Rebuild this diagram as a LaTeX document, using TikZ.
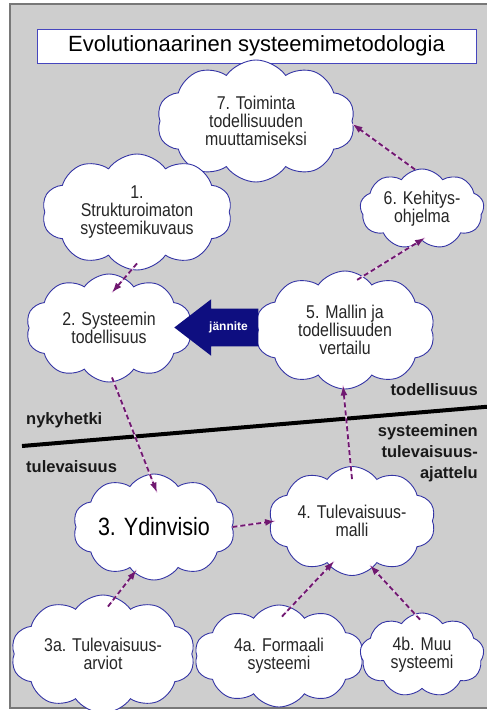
\documentclass[tikz,border=0pt]{standalone}
\usepackage{fontspec}
\setmainfont{Liberation Sans}
\newfontfamily\pilvifont[FakeStretch=0.86]{Liberation Sans}
\usetikzlibrary{shapes.symbols,shapes.arrows,arrows.meta}

\definecolor{tausta}{RGB}{206,206,206}
\definecolor{kehys}{RGB}{120,120,120}
\definecolor{pilvireuna}{RGB}{52,52,165}
\definecolor{otsikkoreuna}{RGB}{70,70,190}
\definecolor{violetti}{RGB}{112,24,112}
\definecolor{vaalea}{RGB}{240,215,240}
\definecolor{jannitevari}{RGB}{14,14,128}

\begin{document}
\begin{tikzpicture}
      [x=1pt, y=-1pt,
      every node/.style={inner sep=0pt},
      pilvi/.style={cloud, cloud puffs=10, cloud puff arc=110, cloud ignores aspect,
        draw=pilvireuna, fill=white, line width=0.9pt, align=center, text=black!85,
        font=\pilvifont\fontsize{18.5}{18}\selectfont},
      nuoli/.style={-{Latex[length=10pt,width=7pt]}, draw=violetti, line width=1.8pt,
        dash pattern=on 5pt off 3pt,
        preaction={draw=vaalea, solid, line width=1.6pt, arrows=-}},
      aika/.style={font=\bfseries\fontsize{16.5}{21}\selectfont, text=black!90, align=right},
      ]
      \useasboundingbox (0,0) rectangle (487,710);
      \filldraw[fill=tausta, draw=kehys, line width=1.2pt] (10,4) rectangle (492,708);

      % otsikko
      \node[draw=otsikkoreuna, fill=white, line width=1pt, minimum width=439pt,
        minimum height=34pt, font=\fontsize{22}{26}\selectfont] (otsikko) at (256.5,46)
        {Evolutionaarinen systeemimetodologia};

      % pilvet
      \node[pilvi, minimum width=198pt, minimum height=122pt] (toiminta) at (256,121)
        {7. Toiminta\\todellisuuden\\muuttamiseksi};
      \node[pilvi, minimum width=190pt, minimum height=116pt] (kuvaus) at (137,212)
        {1.\\Strukturoimaton\\systeemikuvaus};
      \node[pilvi, minimum width=124pt, minimum height=80pt, cloud puffs=9] (ohjelma) at (422,209)
        {6. Kehitys-\\ohjelma};
      \node[pilvi, minimum width=166pt, minimum height=108pt] (todellisuus) at (109,328)
        {2. Systeemin\\todellisuus};
      \node[pilvi, minimum width=180pt, minimum height=118pt] (vertailu) at (345,330)
        {5. Mallin ja\\todellisuuden\\vertailu};
      \node[pilvi, minimum width=162pt, minimum height=106pt,
        font=\pilvifont\fontsize{25}{26}\selectfont, text=black] (ydin) at (154,527)
        {3. Ydinvisio};
      \node[pilvi, minimum width=167pt, minimum height=109pt] (malli) at (352,521)
        {4. Tulevaisuus-\\malli};
      \node[pilvi, minimum width=184pt, minimum height=118pt] (arviot) at (103,654)
        {3a. Tulevaisuus-\\arviot};
      \node[pilvi, minimum width=169pt, minimum height=102pt] (formaali) at (279,656)
        {4a. Formaali\\systeemi};
      \node[pilvi, minimum width=124pt, minimum height=84pt, cloud puffs=9] (muu) at (422,655)
        {4b. Muu\\systeemi};

      % jannite
      \node[single arrow, shape border rotate=180, fill=jannitevari, text=white,
        minimum height=84pt, inner xsep=3pt, inner ysep=13pt,
        single arrow head extend=9.5pt, single arrow tip angle=75,
        font=\bfseries\fontsize{12}{12}\selectfont, anchor=tip] (jannite) at (174,327.5) {jännite};

      % nykyhetken raja
      \coordinate (rajaV) at (22,446);
      \coordinate (rajaO) at (490,406.5);
      \draw[line width=4pt] (rajaV) -- (rajaO);

      \node[aika, anchor=east] (todell) at (478,390) {todellisuus};
      \node[aika, anchor=west] (nyky) at (26,420) {nykyhetki};
      \node[aika, anchor=west] (tulev) at (26,467) {tulevaisuus};
      \node[aika, anchor=east] (ajattelu) at (478,453)
        {systeeminen\\tulevaisuus-\\ajattelu};

      % nuolet
      \draw[nuoli] (ohjelma.100) -- ([yshift=-3pt]toiminta.east);
      \draw[nuoli] ([yshift=7pt]kuvaus.south) -- ([xshift=3pt,yshift=-19pt]todellisuus.north);
      \draw[nuoli] ([yshift=-7pt]vertailu.78) -- ([xshift=3pt,yshift=3pt]ohjelma.south);
      \draw[nuoli] ([xshift=3pt,yshift=5pt]todellisuus.south) -- ([xshift=3pt,yshift=-19pt]ydin.north);
      \draw[nuoli] ([yshift=-13pt]malli.north) -- ([xshift=-2pt,yshift=4pt]vertailu.south);
      \draw[nuoli] (ydin.east) -- ([xshift=4pt]malli.west);
      \draw[nuoli] ([xshift=5pt,yshift=-12pt]arviot.north) -- ([yshift=5pt]ydin.250);
      \draw[nuoli] ([xshift=3pt,yshift=-12pt]formaali.north) -- ([yshift=9pt]malli.250);
      \draw[nuoli] ([xshift=-2pt,yshift=-7pt]muu.north) -- ([yshift=5pt]malli.290);
\end{tikzpicture}
\end{document}
